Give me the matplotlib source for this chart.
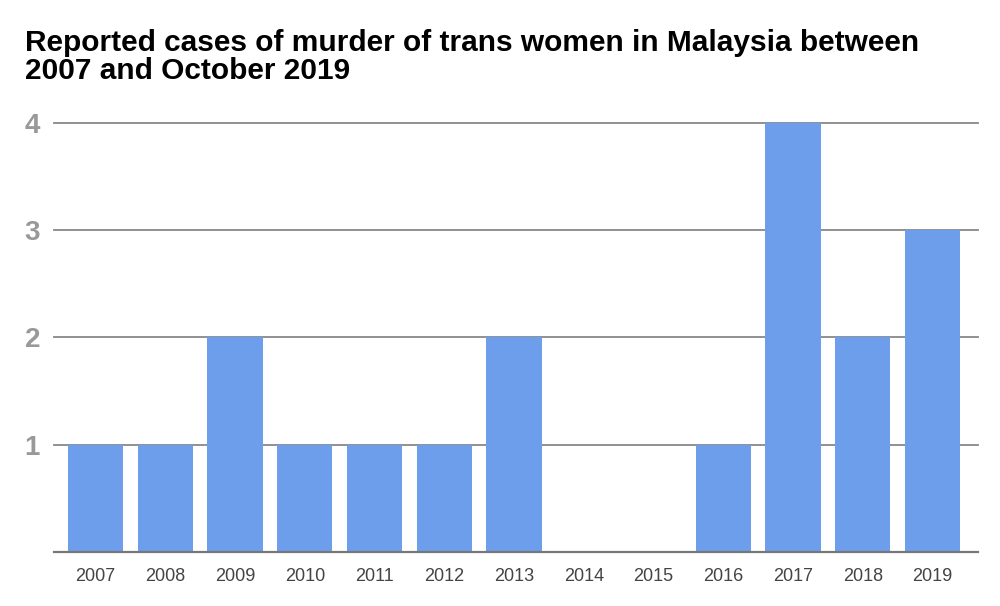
import matplotlib
matplotlib.use("Agg")
import matplotlib.pyplot as plt

years = ["2007", "2008", "2009", "2010", "2011", "2012", "2013",
         "2014", "2015", "2016", "2017", "2018", "2019"]
cases = [1, 1, 2, 1, 1, 1, 2, 0, 0, 1, 4, 2, 3]
yticks = [1, 2, 3, 4]
title_lines = ["Reported cases of murder of trans women in Malaysia between",
               "2007 and October 2019"]

plt.rcParams['font.family'] = ['Liberation Sans', 'DejaVu Sans']

fig = plt.figure(figsize=(10, 6.06), dpi=100)
ax = fig.add_axes([0.054, 0.0896, 0.924, 0.7074])

x = list(range(len(years)))
ax.bar(x, cases, width=0.79, color="#6d9eeb", zorder=3)

ax.set_xlim(-0.595, 12.652)
ax.set_ylim(0, 4)
for v in yticks:
    ax.axhline(v, color="#888888", linewidth=1.3, zorder=1, clip_on=False)
ax.axhline(0, color="#777777", linewidth=1.6, zorder=4, clip_on=False)

ax.set_xticks(x)
ax.set_xticklabels(years, fontsize=13, color="#444444")
ax.set_yticks(yticks)
ax.set_yticklabels([str(v) for v in yticks], fontsize=20, fontweight="bold", color="#999999")
ax.tick_params(axis="both", length=0)
ax.tick_params(axis="x", pad=12)
ax.tick_params(axis="y", pad=10)
for s in ax.spines.values():
    s.set_visible(False)

fig.text(0.025, 1 - 51 / 606, title_lines[0], fontsize=21.5, fontweight="bold",
         color="#000000", ha="left", va="baseline")
fig.text(0.025, 1 - 79 / 606, title_lines[1], fontsize=21.5, fontweight="bold",
         color="#000000", ha="left", va="baseline")

fig.savefig("out.png", dpi=100)
